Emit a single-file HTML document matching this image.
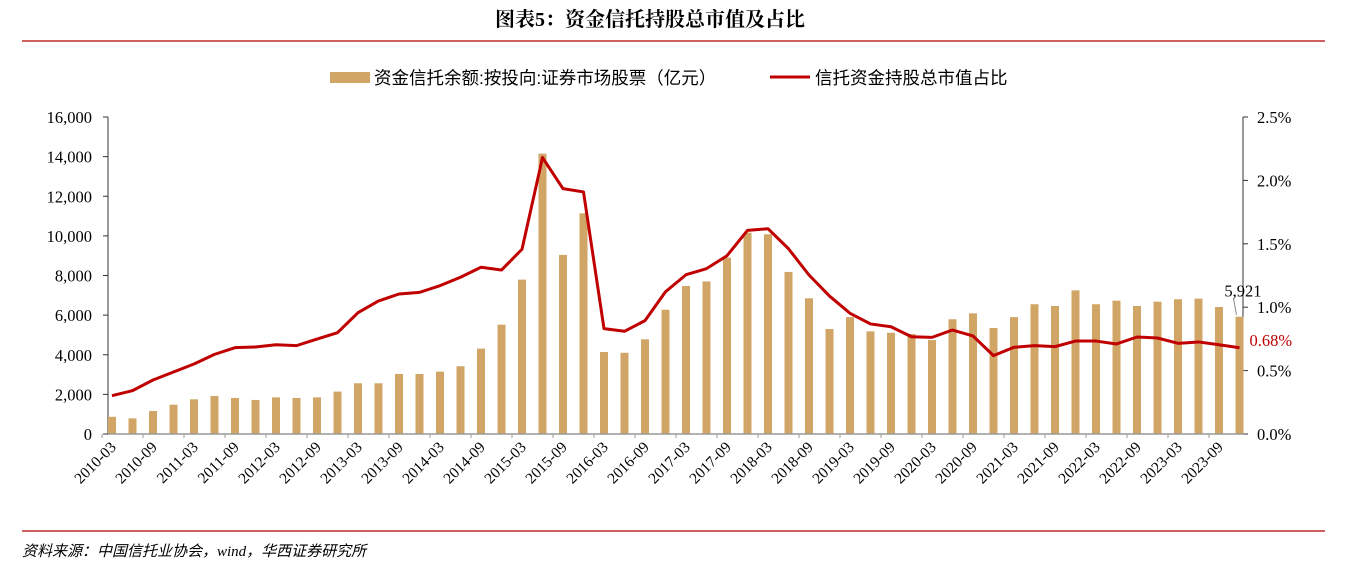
<!DOCTYPE html>
<html><head><meta charset="utf-8">
<style>
body{margin:0;background:#fff;width:1348px;height:569px;overflow:hidden;font-family:"Liberation Serif","Noto Serif CJK SC",serif;}
svg{display:block}
</style></head><body>
<svg id="c" width="1348" height="569">
<text x="650" y="26" text-anchor="middle" font-size="20" font-weight="bold" font-family="'Liberation Serif','Noto Serif CJK SC',serif">图表5：资金信托持股总市值及占比</text>
<line x1="22" y1="41" x2="1325" y2="41" stroke="#b00000" stroke-width="1.2"/>
<line x1="22" y1="531" x2="1325" y2="531" stroke="#b00000" stroke-width="1.2"/>
<text x="22" y="556" font-size="15" font-style="italic" font-family="'Liberation Serif','Noto Sans CJK SC',sans-serif">资料来源：中国信托业协会，wind，华西证券研究所</text>
<g>
<rect x="330" y="72" width="40" height="11" fill="#d0a566"/>
<text x="374" y="84" font-size="17.5" font-family="'Liberation Sans','Noto Sans CJK SC',sans-serif">资金信托余额:按投向:证券市场股票（亿元）</text>
<line x1="770" y1="77" x2="810" y2="77" stroke="#c00000" stroke-width="3"/>
<text x="815" y="84" font-size="17.5" font-family="'Liberation Sans','Noto Sans CJK SC',sans-serif">信托资金持股总市值占比</text>
</g>
<g id="plot"></g>
</svg>
<script>
const categories=[];for(let y=2010;y<=2023;y++)for(const m of["03","06","09","12"])categories.push(y+"-"+m);
const barValues=[870,790,1160,1480,1750,1920,1820,1720,1850,1820,1850,2140,2560,2560,3030,3030,3150,3420,4310,5520,7790,14150,9040,11140,4140,4100,4780,6270,7470,7700,8900,10160,10080,8180,6850,5300,5900,5180,5110,5050,4740,5790,6090,5350,5900,6550,6460,7250,6550,6730,6460,6680,6800,6830,6410,5921];
const lineValues=[0.302,0.342,0.426,0.489,0.552,0.628,0.681,0.686,0.704,0.697,0.749,0.799,0.957,1.049,1.104,1.117,1.170,1.236,1.315,1.293,1.457,2.18,1.935,1.909,0.831,0.810,0.894,1.122,1.256,1.304,1.406,1.606,1.619,1.461,1.254,1.088,0.952,0.868,0.846,0.767,0.762,0.820,0.773,0.618,0.684,0.697,0.689,0.733,0.733,0.710,0.765,0.757,0.715,0.726,0.704,0.68];
const leftTicks=[0,2000,4000,6000,8000,10000,12000,14000,16000];
const rightTicks=[0,0.5,1.0,1.5,2.0,2.5];
const X0=108,X1=1243,Y0=434,Y1=117,first=112,step=20.5;
const xs=i=>first+i*step;
const yl=v=>Y0-(v/16000)*(Y0-Y1);
const yr=v=>Y0-(v/2.5)*(Y0-Y1);
const NS="http://www.w3.org/2000/svg";
const g=document.getElementById("plot");
function mk(t,a,txt){const e=document.createElementNS(NS,t);for(const k in a)e.setAttribute(k,a[k]);if(txt!=null)e.textContent=txt;g.appendChild(e);return e;}
let e;
e=mk("line",{x1:X0,y1:Y1,x2:X0,y2:Y0,stroke:"#333"});


e=mk("line",{x1:X1,y1:Y1,x2:X1,y2:Y0,stroke:"#333"});


leftTicks.forEach(v=>{
 mk("line",{x1:X0-5,y1:yl(v),x2:X0,y2:yl(v),stroke:"#333"});
 e=mk("text",{x:X0-16,y:yl(v)+6,"text-anchor":"end","font-size":16.5},v.toLocaleString("en-US"));
 
 
});
rightTicks.forEach(v=>{
 mk("line",{x1:X1,y1:yr(v),x2:X1+5,y2:yr(v),stroke:"#333"});
 e=mk("text",{x:X1+14,y:yr(v)+6,"font-size":16.5},v.toFixed(1)+"%");
 
 
});
barValues.forEach((v,i)=>{
 e=mk("rect",{x:xs(i)-4,y:yl(v),width:8,height:Y0-yl(v),fill:"#d0a566"});
 
 
});
e=mk("line",{x1:X0,y1:Y0,x2:X1,y2:Y0,stroke:"#999","stroke-width":1.5});


categories.forEach((c,i)=>{
 if(i%2)return;
 mk("line",{x1:xs(i)-10,y1:Y0,x2:xs(i)-10,y2:Y0+4,stroke:"#999"});
 const x=xs(i)+5,y=Y0+14;
 e=mk("text",{x:x,y:y,"text-anchor":"end","font-size":15.5,transform:`rotate(-45 ${x} ${y})`},c);
 
 
});
e=mk("polyline",{points:lineValues.map((v,i)=>xs(i)+","+yr(v)).join(" "),fill:"none",stroke:"#c00000","stroke-width":3,"stroke-linejoin":"round"});


const n=barValues.length-1;
mk("line",{x1:xs(n)-3,y1:yl(barValues[n])-2,x2:xs(n)-6,y2:yl(barValues[n])-18,stroke:"#888"});
e=mk("text",{x:xs(n)+22,y:yl(barValues[n])-20,"text-anchor":"end","font-size":16.5},barValues[n].toLocaleString("en-US"));


e=mk("text",{x:xs(n)+10,y:yr(lineValues[n])-2,"font-size":16.5,fill:"#c00000"},lineValues[n].toFixed(2)+"%");


</script>
</body></html>
